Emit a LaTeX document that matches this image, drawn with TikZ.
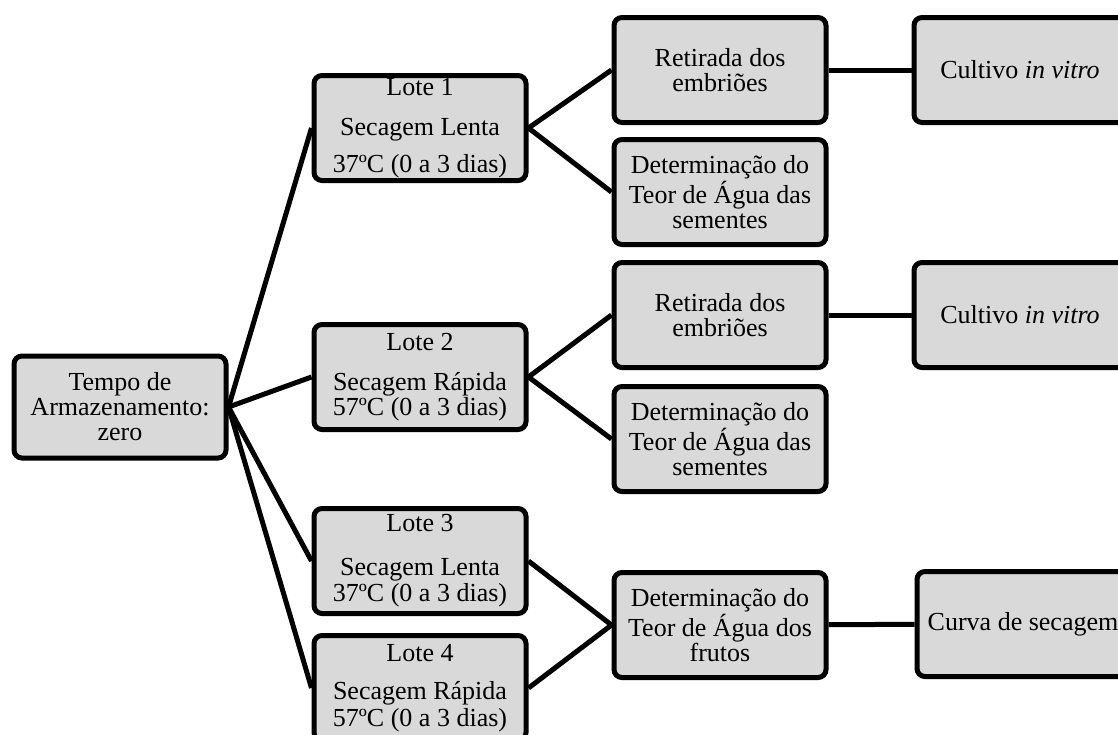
\documentclass[tikz,border=0pt]{standalone}
\usepackage{fontspec}
\setmainfont{Liberation Serif}
\usepackage{xcolor}
\definecolor{boxGray}{RGB}{217, 217, 217}
\definecolor{boxLine}{RGB}{0, 0, 0}
\usepackage{tikz}
\usetikzlibrary{
    positioning,
    calc
}

\begin{document}
\begin{tikzpicture}[
    x=0.5pt, y=-0.5pt,
    stageBox/.style={
        rectangle, rounded corners=4pt,
        draw=boxLine, line width=2.5pt,
        fill=boxGray, text=black,
        font=\fontsize{13}{12.5}\selectfont,
        align=center, inner xsep=2pt, inner ysep=1pt,
        minimum width=106pt, minimum height=52.5pt
    },
    linkLine/.style={
        line width=2.5pt, draw=boxLine
    }
]

    \useasboundingbox (0, 0) rectangle (1118, 734);
    \clip (0, 0) rectangle (1118, 734);

    % Raiz
    \node[stageBox, minimum height=51pt] (tempo) at (120, 407) {
        Tempo de\\
        Armazenamento:\\
        zero
    };

    % Lotes
    \node[stageBox] (lote1) at (420, 128) {
        Lote 1\\[7.5pt]
        Secagem Lenta\\[6pt]
        37ºC (0 a 3 dias)
    };

    \node[stageBox] (lote2) at (420, 377) {
        Lote 2\\[7.5pt]
        Secagem Rápida\\
        57ºC (0 a 3 dias)
    };

    \node[stageBox] (lote3) at (420, 561) {
        Lote 3\\[9.5pt]
        Secagem Lenta\\[0.5pt]
        37ºC (0 a 3 dias)
    };

    \node[stageBox] (lote4) at (420, 688) {
        Lote 4\\[6.5pt]
        Secagem Rápida\\[1pt]
        57ºC (0 a 3 dias)
    };

    % Analises dos lotes 1 e 2
    \node[stageBox] (retirada1) at (720, 70) {
        Retirada dos\\
        embriões
    };

    \node[stageBox] (teorSem1) at (720, 192) {
        Determinação do\\
        Teor de Água das\\
        sementes
    };

    \node[stageBox] (retirada2) at (720, 315) {
        Retirada dos\\
        embriões
    };

    \node[stageBox] (teorSem2) at (720, 439) {
        Determinação do\\
        Teor de Água das\\
        sementes
    };

    % Analise dos lotes 3 e 4
    \node[stageBox] (teorFrutos) at (720, 625) {
        Determinação do\\
        Teor de Água dos\\
        frutos
    };

    % Etapa final (cortada na margem direita)
    \node[stageBox] (cultivo1) at (1020, 70) {Cultivo \textit{in vitro}};
    \node[stageBox] (cultivo2) at (1020, 315) {Cultivo \textit{in vitro}};
    \node[stageBox] (curva) at (1023, 624) {Curva de secagem};

    % Ligacoes
    \draw[linkLine] (tempo.east) -- (lote1.west);
    \draw[linkLine] (tempo.east) -- (lote2.west);
    \draw[linkLine] (tempo.east) -- (lote3.west);
    \draw[linkLine] (tempo.east) -- (lote4.west);

    \draw[linkLine] (lote1.east) -- (retirada1.west);
    \draw[linkLine] (lote1.east) -- (teorSem1.west);
    \draw[linkLine] (lote2.east) -- (retirada2.west);
    \draw[linkLine] (lote2.east) -- (teorSem2.west);
    \draw[linkLine] (lote3.east) -- (teorFrutos.west);
    \draw[linkLine] (lote4.east) -- (teorFrutos.west);

    \draw[linkLine] (retirada1) -- (cultivo1);
    \draw[linkLine] (retirada2) -- (cultivo2);
    \draw[linkLine] (teorFrutos) -- (curva);

\end{tikzpicture}
\end{document}
